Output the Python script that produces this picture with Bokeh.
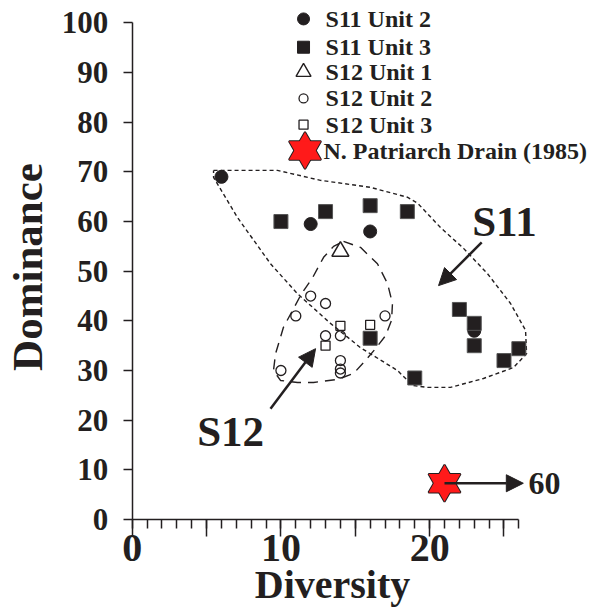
import math
from bokeh.plotting import figure
from bokeh.models import Range1d, FixedTicker, Arrow, NormalHead
from bokeh.core.properties import value
from bokeh.embed import file_html
from bokeh.resources import INLINE

INK = "#231f20"
RED = "#ff1a1a"
FONT = "Liberation Serif"

# ---------------- data (Diversity, Dominance) ----------------
s11u2_x = [6, 12, 16, 23]
s11u2_y = [69, 59.5, 58, 38]

s11u3_x = [10, 13, 16, 18.5, 16, 19, 22, 23, 23, 25, 26]
s11u3_y = [60, 62, 63.2, 62, 36.5, 28.5, 42.3, 39.5, 35, 32, 34.4]

s12u1_x = [14]
s12u1_y = [54]

s12u2_x = [10, 11, 12, 13, 13, 14, 14, 14, 14, 17]
s12u2_y = [30, 41, 45, 43.5, 37, 37, 32, 30.3, 29.5, 41]

s12u3_x = [13, 14, 16]
s12u3_y = [35, 39, 39.2]

npd_x = [21]          # N. Patriarch Drain (1985), plotted off-scale
npd_y = [7.3]
npd_diversity_label = "60"

# hand-drawn group envelopes
s11_env_x = [5.47, 9.77, 12.66, 16.0, 18.5, 19.19, 20.73, 22.28, 23.89, 25.44, 26.45,
             26.52, 25.64, 23.62, 21.4, 19.86, 18.85, 17.84, 15.35, 13.33, 11.1, 9.3,
             7.08, 5.47, 5.47]
s11_env_y = [70.3, 70.3, 68.3, 66.9, 64.9, 63.7, 58.8, 54.6, 49.5, 43.5, 38.1,
             33.4, 30.6, 28.4, 26.6, 26.6, 27.0, 30.0, 34.6, 39.5, 45.5, 51.5,
             60.8, 68.9, 70.3]
s12_env_x = [14.21, 15.35, 16.49, 17.17, 17.5, 17.44, 17.03, 16.36, 15.62, 14.88, 13.81,
             12.19, 11.12, 9.97, 9.5, 9.64, 10.17, 10.78, 11.39, 12.13, 12.87, 13.54, 14.21]
s12_env_y = [56.0, 54.8, 51.5, 47.5, 43.5, 40.1, 37.0, 34.4, 31.8, 29.4, 28.2,
             27.6, 27.6, 28.0, 30.0, 33.4, 38.7, 42.1, 45.5, 48.7, 52.8, 55.0, 56.0]

legend_labels = ["S11 Unit 2", "S11 Unit 3", "S12 Unit 1", "S12 Unit 2", "S12 Unit 3",
                 "N. Patriarch Drain (1985)"]

x_ticks = [0, 5, 10, 15, 20, 25]
x_minor = list(range(0, 27))
y_ticks = list(range(0, 101, 10))

# ---------------- figure: the frame covers the whole canvas ----------------
p = figure(frame_width=589, frame_height=608,
           x_range=Range1d(-8.857, 30.75), y_range=Range1d(-17.92, 104.51),
           min_border_left=0, min_border_right=0, min_border_top=0, min_border_bottom=0,
           output_backend="svg", toolbar_location=None)
p.grid.visible = False
p.outline_line_color = None
p.background_fill_color = "white"
p.border_fill_color = "white"

for ax in (p.xaxis[0], p.yaxis[0]):
    ax.fixed_location = 0
    ax.axis_line_color = INK
    ax.axis_line_width = 1.5
    ax.major_tick_line_color = INK
    ax.major_tick_line_width = 1.5
    ax.minor_tick_line_color = INK
    ax.minor_tick_line_width = 1.5
    ax.major_tick_in = 0
    ax.minor_tick_in = 0
    ax.major_label_text_font = FONT
    ax.major_label_text_font_style = "bold"
    ax.major_label_text_color = INK

xa = p.xaxis[0]
xa.ticker = FixedTicker(ticks=x_ticks, minor_ticks=x_minor)
xa.bounds = (0, 26)
xa.major_label_overrides = {5: "", 15: "", 25: ""}
xa.major_tick_out = 17
xa.minor_tick_out = 9
xa.major_label_text_font_size = "40px"
xa.major_label_standoff = -2

ya = p.yaxis[0]
ya.ticker = FixedTicker(ticks=y_ticks, minor_ticks=[])
ya.bounds = (0, 100)
ya.major_tick_out = 9
ya.minor_tick_out = 0
ya.major_label_text_font_size = "31px"
ya.major_label_standoff = 15

txt = dict(text_font=value(FONT), text_font_style="bold", text_color=INK)

# axis titles
p.text([13.47], [-13.1], text=["Diversity"], text_font_size="40px", text_align="center",
       text_baseline="middle", **txt)
p.text([-7.075], [50.85], text=["Dominance"], angle=math.pi / 2, text_font_size="43px",
       text_align="center", text_baseline="middle", **txt)

# envelopes
p.line(s11_env_x, s11_env_y, line_color=INK, line_width=1.4, line_dash="4 3")
p.line(s12_env_x, s12_env_y, line_color=INK, line_width=1.4, line_dash="10 7")


def star(xs, ys, size):
    for m in ("triangle", "inverted_triangle"):
        p.scatter(xs, ys, marker=m, size=size, fill_color=RED, line_color=INK, line_width=2)
    for m in ("triangle", "inverted_triangle"):
        p.scatter(xs, ys, marker=m, size=size, fill_color=RED, line_color=None)


# arrows
head = dict(size=17, fill_color=INK, line_color=INK)
p.add_layout(Arrow(end=NormalHead(**head), x_start=23.5, y_start=55.8, x_end=20.6, y_end=47.1,
                   line_color=INK, line_width=2.5))
p.add_layout(Arrow(end=NormalHead(**head), x_start=9.3, y_start=22.3, x_end=12.33, y_end=34.4,
                   line_color=INK, line_width=2.5))
p.add_layout(Arrow(end=NormalHead(**head), x_start=npd_x[0], y_start=npd_y[0], x_end=26.3,
                   y_end=npd_y[0], line_color=INK, line_width=2.5))

# points
p.scatter(s11u2_x, s11u2_y, marker="circle", size=13, fill_color=INK, line_color=INK)
p.scatter(s11u3_x, s11u3_y, marker="square", size=14, fill_color=INK, line_color="#555555",
          line_width=1)
p.scatter(s12u1_x, s12u1_y, marker="triangle", size=17, fill_color=None, line_color=INK,
          line_width=1.5)
p.scatter(s12u2_x, s12u2_y, marker="circle", size=10, fill_color=None, line_color=INK,
          line_width=1.3)
p.scatter(s12u3_x, s12u3_y, marker="square", size=9, fill_color=None, line_color=INK,
          line_width=1.3)
star(npd_x, npd_y, 32)

p.text([26.65], npd_y, text=[npd_diversity_label], text_font_size="32px",
       text_align="left", text_baseline="middle", **txt)
p.text([22.86], [60.05], text=["S11"], text_font_size="43px", text_align="left",
       text_baseline="middle", **txt)
p.text([4.37], [17.75], text=["S12"], text_font_size="43px", text_align="left",
       text_baseline="middle", **txt)

# legend
leg_mx = 11.52
leg_tx = 13.0
leg_y = [100.8, 95.1, 90.1, 84.8, 79.5, 74.3]
p.scatter([leg_mx], [leg_y[0]], marker="circle", size=12, fill_color=INK, line_color=INK)
p.scatter([leg_mx], [leg_y[1]], marker="square", size=12, fill_color=INK, line_color=INK)
p.scatter([leg_mx], [leg_y[2]], marker="triangle", size=15, fill_color=None, line_color=INK,
          line_width=1.4)
p.scatter([leg_mx], [leg_y[3]], marker="circle", size=9, fill_color=None, line_color=INK,
          line_width=1.3)
p.scatter([leg_mx], [leg_y[4]], marker="square", size=9, fill_color=None, line_color=INK,
          line_width=1.3)
star([leg_mx + 0.1], [leg_y[5]], 32)
p.text([leg_tx] * 5 + [leg_tx - 0.14], leg_y, text=legend_labels, text_font_size="24px",
       text_align="left", text_baseline="middle", **txt)

open("out.html", "w").write(file_html(p, INLINE))
